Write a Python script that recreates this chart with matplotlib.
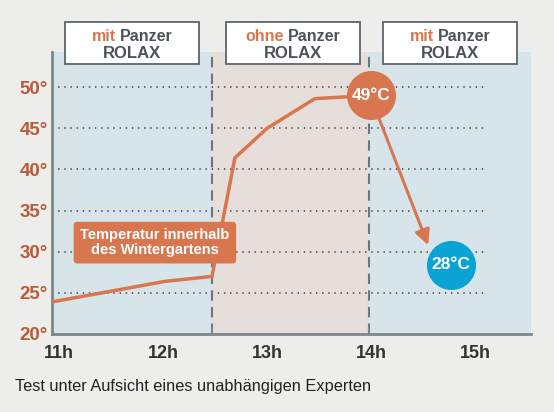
import matplotlib
matplotlib.use("Agg")
import matplotlib.pyplot as plt
from matplotlib.patches import Rectangle
from matplotlib.offsetbox import TextArea, HPacker, VPacker, AnnotationBbox

plt.rcParams['font.family'] = ['Liberation Sans Narrow', 'Liberation Sans', 'DejaVu Sans']

# data
hours = [10.93, 12.02, 12.47, 12.69, 13.0, 13.46, 14.0]
temps = [23.9, 26.4, 27.0, 41.4, 45.0, 48.6, 49.0]
peak = (14.0, 49.0)
after = (14.77, 28.4)
arrow_start = (14.05, 47.1)
arrow_tip = (14.55, 30.8)
phase_edges = [10.93, 12.47, 13.98, 15.54]
phase_words = ["mit", "ohne", "mit"]
xticks = [11, 12, 13, 14, 15]
xlabels = ["11h", "12h", "13h", "14h", "15h"]
yticks = [20, 25, 30, 35, 40, 45, 50]
ylabels = ["20°", "25°", "30°", "35°", "40°", "45°", "50°"]

ORANGE = "#d8774f"
TICK_OR = "#b95a38"
BLUE = "#0aa3d3"
DARK = "#4b5357"

fig = plt.figure(figsize=(5.54, 4.12), dpi=100, facecolor="#ededeb")
ax = fig.add_axes([52/554, 1-334/412, 479/554, 282/412])
ax.set_xlim(10.93, 15.54)
ax.set_ylim(20, 54.27)

# background bands
bg = ["#d7e5ea", "#e6dedb", "#d7e5ea"]
for i in range(3):
    ax.axvspan(phase_edges[i], phase_edges[i+1], color=bg[i], lw=0, zorder=0)

# dotted grid lines (stop short of the right edge)
for t in yticks[1:]:
    ax.plot([10.93, 15.12], [t, t], color="#555c60", lw=1.3,
            linestyle=(0, (0.8, 2.6)), zorder=1)

for e in phase_edges[1:3]:
    ax.axvline(e, color="#6d767b", lw=1.5, linestyle=(0, (5, 3)), zorder=2)

ax.plot(hours, temps, color=ORANGE, lw=2.5, zorder=3, solid_joinstyle="miter")

ax.annotate("", xy=arrow_tip, xytext=arrow_start,
            arrowprops=dict(arrowstyle="-|>,head_length=0.9,head_width=0.45",
                            color=ORANGE, lw=2.2, shrinkA=0, shrinkB=0), zorder=4)

ax.scatter([peak[0]], [peak[1]], s=1250, color=ORANGE, zorder=5, lw=0)
ax.text(peak[0], peak[1], "49°C", color="white", fontsize=12.5, fontweight="bold",
        ha="center", va="center", zorder=6)
ax.scatter([after[0]], [after[1]], s=1250, color=BLUE, zorder=5, lw=0)
ax.text(after[0], after[1], "28°C", color="white", fontsize=12.5, fontweight="bold",
        ha="center", va="center", zorder=6)

ax.text(11.92, 31.1, "Temperatur innerhalb\ndes Wintergartens", color="white",
        fontsize=10.5, fontweight="bold", ha="center", va="center",
        linespacing=1.05, zorder=6,
        bbox=dict(boxstyle="round,pad=0.45,rounding_size=0.25", fc=ORANGE, ec="none"))

# axes styling
for s in ["top", "right"]:
    ax.spines[s].set_visible(False)
for s in ["left", "bottom"]:
    ax.spines[s].set_color("#7d868b")
    ax.spines[s].set_linewidth(2)
ax.set_xticks(xticks)
ax.set_xticklabels(xlabels, fontsize=13, fontweight="bold", color="#333333")
ax.set_yticks(yticks)
ax.set_yticklabels(ylabels, fontsize=13.5, fontweight="bold", color=TICK_OR)
ax.tick_params(axis="both", length=0, pad=3)
ax.tick_params(axis="x", pad=8)
for e in phase_edges[1:3]:
    ax.plot([e, e], [20, 20.7], color="#7d868b", lw=1.5, clip_on=False, zorder=3)

# header boxes
box_x = [65, 226, 383]
for i, word in enumerate(phase_words):
    fig.patches.append(Rectangle((box_x[i]/554, 1-64/412), 134/554, 42/412,
                                 transform=fig.transFigure, fc="white",
                                 ec="#5d656a", lw=1.3, zorder=10))
    line1 = HPacker(children=[
        TextArea(word, textprops=dict(color=ORANGE, fontsize=11.5, fontweight="bold")),
        TextArea("Panzer", textprops=dict(color=DARK, fontsize=11.5, fontweight="bold"))],
        align="baseline", pad=0, sep=3)
    line2 = TextArea("ROLAX", textprops=dict(color=DARK, fontsize=12, fontweight="bold"))
    pack = VPacker(children=[line1, line2], align="center", pad=0, sep=2)
    ab = AnnotationBbox(pack, ((box_x[i] + 67)/554, 1-45/412), xycoords="figure fraction",
                        frameon=False, zorder=11)
    fig.add_artist(ab)

fig.text(15/554, 1-387/412, "Test unter Aufsicht eines unabhängigen Experten",
         fontsize=11.8, color="#222222", ha="left", va="center",
         family=["Liberation Sans", "DejaVu Sans"])

fig.savefig("out.png", dpi=100, facecolor=fig.get_facecolor())
